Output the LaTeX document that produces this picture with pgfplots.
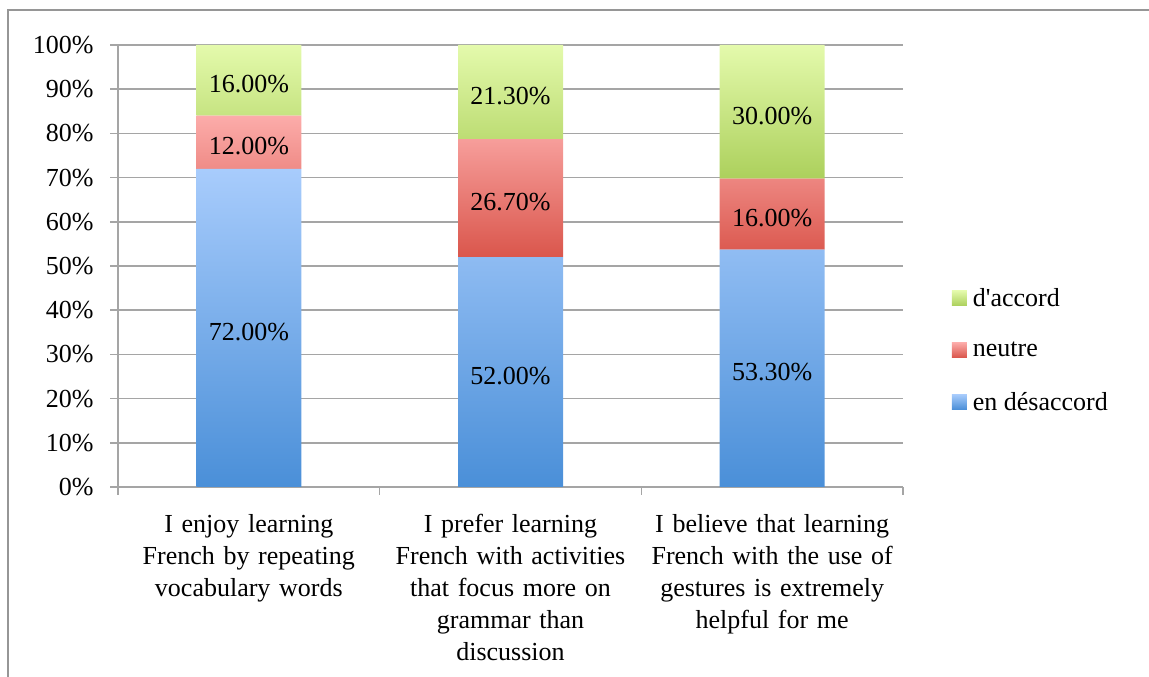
\documentclass[border=0pt]{standalone}
\usepackage{fontspec}
\setmainfont{Liberation Serif}
\usepackage{pgfplots}
\pgfplotsset{compat=1.18}
\definecolor{gridgray}{RGB}{165,165,165}
\definecolor{framegray}{RGB}{150,150,150}
\definecolor{bluetop}{RGB}{168,204,252}
\definecolor{bluebot}{RGB}{74,143,216}
\definecolor{redtop}{RGB}{252,172,170}
\definecolor{redbot}{RGB}{218,86,76}
\definecolor{greentop}{RGB}{228,250,172}
\definecolor{greenbot}{RGB}{172,208,92}
\newcommand{\bigfont}{\fontsize{26}{32}\selectfont}
\begin{document}
\begin{tikzpicture}[x=1pt,y=1pt]
\draw[framegray, line width=1.5pt] (8,-5) -- (8,667) -- (1160,667);
\begin{axis}[
  at={(118pt,190pt)}, anchor=south west,
  scale only axis, width=785pt, height=442pt,
  ybar stacked, bar width=105pt,
  xmin=-0.5, xmax=2.5, ymin=0, ymax=100,
  axis x line*=bottom, axis y line*=left,
  axis line style={gridgray, line width=1.5pt, -},
  ytick={0,10,...,100},
  yticklabels={0\%,10\%,20\%,30\%,40\%,50\%,60\%,70\%,80\%,90\%,100\%},
  yticklabel style={font=\bigfont, xshift=-13pt},
  tick align=outside,
  major tick length=8pt, minor tick length=8pt,
  ytick style={gridgray, line width=1.5pt},
  ymajorgrids, grid style={gridgray, line width=1.5pt},
  xtick={0,1,2},
  xtick style={draw=none},
  minor xtick={-0.5,0.5,1.5,2.5},
  every minor x tick/.style={draw=gridgray, line width=1.5pt},
  xticklabels={{I enjoy learning\\French by repeating\\vocabulary words},
                {I prefer learning\\French with activities\\that focus more on\\grammar than\\discussion},
                {I believe that learning\\French with the use of\\gestures is extremely\\helpful for me}},
  xticklabel style={text width=260pt, align=center, font=\bigfont, yshift=-16pt},
  nodes near coords,
  point meta=explicit symbolic,
  every node near coord/.append style={anchor=center, font=\bigfont, text=black, yshift=-4pt},
  legend style={at={(1.062,0.31)}, anchor=west, draw=none, fill=none,
     font=\bigfont, row sep=30pt, inner sep=0pt, cells={anchor=west}},
  legend image code/.code={\draw[#1, draw=none] (0pt,-7.5pt) rectangle (15pt,7.5pt); \path (19pt,0pt);},
  reverse legend,
]
\addplot[draw=none, top color=bluetop, bottom color=bluebot]
  coordinates {(0,72) [72.00\%] (1,52) [52.00\%] (2,53.68) [53.30\%]};
\addplot[draw=none, top color=redtop, bottom color=redbot]
  coordinates {(0,12) [12.00\%] (1,26.7) [26.70\%] (2,16.11) [16.00\%]};
\addplot[draw=none, top color=greentop, bottom color=greenbot]
  coordinates {(0,16) [16.00\%] (1,21.3) [21.30\%] (2,30.21) [30.00\%]};
\legend{en désaccord, neutre, d\textquotesingle accord}
\end{axis}
\pgfresetboundingbox
\path[use as bounding box] (0,0) rectangle (1149,677);
\end{tikzpicture}
\end{document}
